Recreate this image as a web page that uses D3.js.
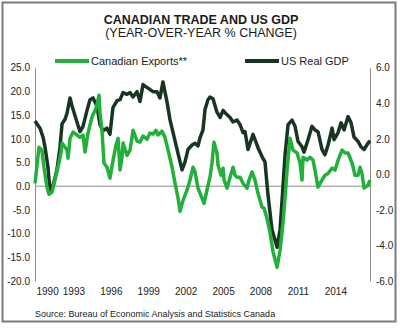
<!DOCTYPE html>
<html>
<head>
<meta charset="utf-8">
<script src="https://cdn.jsdelivr.net/npm/d3@7"></script>
<style>
  html, body { margin: 0; padding: 0; background: #fff; }
  svg { display: block; font-family: "Liberation Sans", Arial, sans-serif; }
</style>
</head>
<body>
<svg id="chart"></svg>
<script>
// Canadian exports (left axis, y/y %)
const exportYears = [1990.00, 1990.16, 1990.32, 1990.56, 1990.72, 1990.96, 1991.12, 1991.36, 1991.60, 1991.84,
  1992.08, 1992.17, 1992.41, 1992.57, 1992.65, 1992.81, 1993.05, 1993.37, 1993.61, 1993.85,
  1994.01, 1994.25, 1994.57, 1994.81, 1994.97, 1995.13, 1995.21, 1995.37, 1995.53, 1995.77,
  1996.01, 1996.26, 1996.50, 1996.66, 1996.82, 1996.98, 1997.06, 1997.38, 1997.62, 1997.86,
  1998.18, 1998.42, 1998.66, 1998.98, 1999.22, 1999.46, 1999.70, 1999.86, 2000.18, 2000.42,
  2000.67, 2000.99, 2001.23, 2001.47, 2001.63, 2001.87, 2002.19, 2002.43, 2002.67, 2002.83,
  2003.07, 2003.39, 2003.55, 2003.79, 2004.03, 2004.19, 2004.35, 2004.59, 2004.68, 2004.92,
  2005.08, 2005.16, 2005.40, 2005.64, 2005.88, 2006.04, 2006.20, 2006.44, 2006.68, 2007.00,
  2007.16, 2007.40, 2007.64, 2007.88, 2008.20, 2008.36, 2008.60, 2008.84, 2009.09, 2009.41,
  2009.65, 2009.89, 2010.05, 2010.21, 2010.45, 2010.69, 2011.01, 2011.25, 2011.41, 2011.49,
  2011.81, 2012.05, 2012.29, 2012.45, 2012.69, 2013.01, 2013.25, 2013.50, 2013.82, 2014.06,
  2014.30, 2014.62, 2014.86, 2015.10, 2015.42, 2015.66, 2015.90, 2016.06, 2016.22, 2016.38,
  2016.70, 2016.86];
const exportValues = [0.6, 4.4, 8.2, 7.6, 4.0, -0.2, -1.7, -1.3, 1.3, 4.0,
  7.0, 9.1, 8.2, 7.6, 5.9, 10.1, 11.4, 10.8, 10.3, 10.8,
  7.2, 11.2, 14.6, 16.0, 17.1, 19.2, 15.4, 11.8, 4.9, 4.0,
  1.7, 5.5, 8.7, 10.1, 3.4, 6.1, 9.1, 6.5, 7.6, 11.8,
  9.5, 9.3, 10.6, 9.9, 11.2, 11.0, 11.8, 10.8, 11.6, 10.3,
  7.6, 4.0, 0.6, -2.5, -5.3, -3.0, -0.8, 1.3, 4.0, 3.0,
  -0.4, -2.5, -3.6, -0.8, 1.9, 4.9, 9.3, 7.0, 4.4, 2.3,
  3.8, 1.3, -0.4, 1.9, 4.0, 2.3, 1.9, 1.9, 0.6, -0.4,
  1.3, 3.0, 1.3, -1.5, -4.4, -4.6, -6.8, -9.7, -13.9, -17.1,
  -13.5, -7.6, -2.3, 3.4, 10.1, 7.6, 7.0, 4.9, 1.3, 6.1,
  5.5, 6.1, 5.5, 3.4, -0.2, 1.3, 2.3, 2.7, 3.8, 3.4,
  5.5, 7.6, 7.0, 7.0, 4.9, 2.3, 2.3, 4.0, 2.7, -0.4,
  0.2, 1.3];

// US real GDP (right axis, y/y %)
const gdpYears = [1990.00, 1990.40, 1990.64, 1990.80, 1991.04, 1991.20, 1991.44, 1991.76, 1992.00, 1992.17,
  1992.41, 1992.57, 1992.81, 1992.97, 1993.21, 1993.45, 1993.61, 1993.85, 1994.17, 1994.41,
  1994.65, 1994.97, 1995.21, 1995.45, 1995.77, 1996.01, 1996.25, 1996.58, 1996.82, 1997.06,
  1997.38, 1997.62, 1997.86, 1998.18, 1998.42, 1998.66, 1999.06, 1999.46, 1999.78, 2000.02,
  2000.26, 2000.59, 2000.83, 2001.07, 2001.39, 2001.63, 2001.79, 2002.03, 2002.27, 2002.59,
  2002.83, 2003.07, 2003.23, 2003.47, 2003.63, 2003.87, 2004.03, 2004.27, 2004.59, 2004.84,
  2005.08, 2005.40, 2005.64, 2005.88, 2006.20, 2006.44, 2006.68, 2006.84, 2007.08, 2007.48,
  2007.88, 2008.20, 2008.44, 2008.68, 2009.00, 2009.41, 2009.65, 2009.81, 2010.05, 2010.29,
  2010.61, 2010.85, 2011.09, 2011.41, 2011.57, 2011.89, 2012.21, 2012.45, 2012.69, 2013.01,
  2013.25, 2013.50, 2013.82, 2013.98, 2014.30, 2014.54, 2014.78, 2015.10, 2015.34, 2015.58,
  2015.90, 2016.14, 2016.38, 2016.70, 2016.86];
const gdpValues = [3.0, 2.6, 2.1, 1.55, 0.4, -0.9, -0.65, 0.25, 1.5, 2.85,
  3.1, 3.45, 4.3, 3.85, 3.3, 2.75, 2.4, 2.7, 3.6, 4.2,
  4.3, 3.85, 2.8, 2.45, 2.6, 2.25, 3.75, 4.15, 4.2, 4.6,
  4.5, 4.6, 4.35, 4.65, 4.1, 5.05, 4.85, 4.65, 4.65, 4.3,
  5.2, 4.05, 3.05, 2.35, 1.4, 0.7, 0.25, 0.7, 1.4, 1.65,
  1.75, 1.6, 2.05, 2.5, 3.65, 4.2, 4.35, 4.25, 3.5, 3.2,
  3.6, 3.35, 3.2, 2.95, 3.05, 2.8, 2.35, 2.4, 1.4, 2.25,
  1.5, 1.0, 0.7, -1.15, -3.1, -4.1, -3.1, -1.45, 1.1, 2.8,
  3.05, 2.7, 1.85, 1.55, 1.25, 1.95, 2.7, 2.5, 2.4, 1.4,
  1.1, 1.65, 2.6, 1.95, 2.35, 2.9, 2.5, 3.25, 2.9, 2.1,
  1.85, 1.55, 1.4, 1.75, 1.9];

const yearTicks = [1990, 1993, 1996, 1999, 2002, 2005, 2008, 2011, 2014];
const leftTicks = [25, 20, 15, 10, 5, 0, -5, -10, -15, -20];
const rightTicks = [6, 4, 2, 0, -2, -4, -6];

const width = 400;
const height = 336;
const plot = { left: 35, right: 370, top: 67.7, bottom: 281 };
const green = "#22b03a";
const dark = "#173520";
const axisGrey = "#8c8c8c";

const svg = d3.select("#chart")
  .attr("width", width)
  .attr("height", height);

// frame
svg.append("rect")
  .attr("x", 2.5).attr("y", 2.5)
  .attr("width", 393).attr("height", 319)
  .attr("fill", "#fff")
  .attr("stroke", "#7a7a7a")
  .attr("stroke-width", 2);

const x = d3.scaleLinear().domain([1990, 2016.86]).range([plot.left, plot.right]);
const yLeft = d3.scaleLinear().domain([-20, 25]).range([plot.bottom, plot.top]);
const yRight = d3.scaleLinear().domain([-6, 6]).range([plot.bottom, plot.top]);

// titles
svg.append("text")
  .attr("x", 201).attr("y", 23.5)
  .attr("text-anchor", "middle")
  .attr("font-size", 12.5).attr("font-weight", "bold")
  .attr("fill", "#1a1a1a")
  .text("CANADIAN TRADE AND US GDP");
svg.append("text")
  .attr("x", 201).attr("y", 37)
  .attr("text-anchor", "middle")
  .attr("font-size", 12.5)
  .attr("fill", "#1a1a1a")
  .text("(YEAR-OVER-YEAR % CHANGE)");

// legend
const legend = [
  { name: "Canadian Exports**", color: green, x: 55 },
  { name: "US Real GDP", color: dark, x: 245 }
];
const lg = svg.append("g");
lg.selectAll("line")
  .data(legend)
  .enter()
  .append("line")
  .attr("x1", d => d.x).attr("x2", d => d.x + 34)
  .attr("y1", 61).attr("y2", 61)
  .attr("stroke", d => d.color)
  .attr("stroke-width", 4);
lg.selectAll("text")
  .data(legend)
  .enter()
  .append("text")
  .attr("x", d => d.x + 36).attr("y", 65)
  .attr("font-size", 11)
  .attr("fill", "#1a1a1a")
  .text(d => d.name);

// axes
const leftAxis = svg.append("g")
  .attr("transform", `translate(${plot.left},0)`)
  .call(d3.axisLeft(yLeft).tickValues(leftTicks).tickSize(0).tickPadding(5)
    .tickFormat(d => d.toFixed(1)));
const rightAxis = svg.append("g")
  .attr("transform", `translate(${plot.right},0)`)
  .call(d3.axisRight(yRight).tickValues(rightTicks).tickSize(0).tickPadding(6)
    .tickFormat(d => d.toFixed(1)));
const bottomAxis = svg.append("g")
  .attr("transform", `translate(0,${plot.bottom})`)
  .call(d3.axisBottom(x).tickValues(yearTicks).tickSize(0).tickPadding(7)
    .tickFormat(d3.format("d")));
bottomAxis.select(".domain").remove();
bottomAxis.selectAll(".tick text")
  .attr("text-anchor", d => d === 1990 ? "start" : "middle")
  .attr("dx", 1);

[leftAxis, rightAxis].forEach(a => a.select(".domain").attr("stroke", axisGrey));
[leftAxis, rightAxis, bottomAxis].forEach(a => a.selectAll(".tick text")
  .attr("font-size", 10)
  .attr("font-family", "Liberation Sans, Arial, sans-serif")
  .attr("fill", "#222"));

// zero line of left axis
svg.append("line")
  .attr("x1", plot.left).attr("x2", plot.right)
  .attr("y1", yLeft(0)).attr("y2", yLeft(0))
  .attr("stroke", axisGrey)
  .attr("stroke-width", 1);

// series
const lineLeft = d3.line().x(d => x(d[0])).y(d => yLeft(d[1]));
const lineRight = d3.line().x(d => x(d[0])).y(d => yRight(d[1]));

svg.append("path")
  .datum(gdpYears.map((yr, i) => [yr, gdpValues[i]]))
  .attr("fill", "none")
  .attr("stroke", dark)
  .attr("stroke-width", 3.5)
  .attr("stroke-linejoin", "round")
  .attr("d", lineRight);

svg.append("path")
  .datum(exportYears.map((yr, i) => [yr, exportValues[i]]))
  .attr("fill", "none")
  .attr("stroke", green)
  .attr("stroke-width", 3.5)
  .attr("stroke-linejoin", "round")
  .attr("d", lineLeft);

// source
svg.append("text")
  .attr("x", 35).attr("y", 317)
  .attr("font-size", 9)
  .attr("fill", "#1a1a1a")
  .text("Source: Bureau of Economic Analysis and Statistics Canada");
</script>
</body>
</html>
